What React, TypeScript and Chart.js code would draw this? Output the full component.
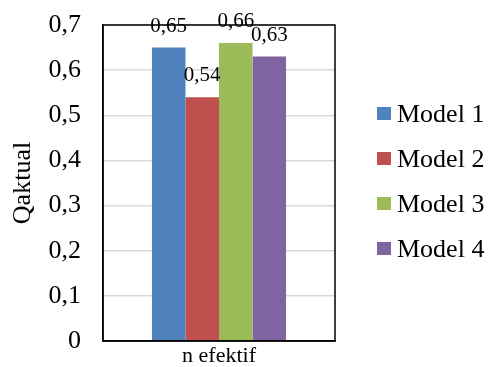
import React, { useEffect, useRef } from "react";
import { Chart, registerables } from "chart.js";

Chart.register(...registerables);

const categories = ["n efektif"];
const seriesNames = ["Model 1", "Model 2", "Model 3", "Model 4"];
const model1 = [0.65];
const model2 = [0.54];
const model3 = [0.66];
const model4 = [0.63];
const seriesColors = ["#4F81BD", "#C0504D", "#9BBB59", "#8064A2"];
const yTitle = "Qaktual";

const SERIF = "'Liberation Serif', 'Times New Roman', serif";

const fmt = (v: number) => {
  const r = Math.round(v * 100) / 100;
  return r === 0 ? "0" : String(r).replace(".", ",");
};

// Value labels drawn above each bar
const valueLabels = {
  id: "valueLabels",
  afterDatasetsDraw(chart: any) {
    const ctx = chart.ctx;
    ctx.save();
    ctx.font = `21px ${SERIF}`;
    ctx.fillStyle = "#000";
    ctx.textAlign = "center";
    ctx.textBaseline = "alphabetic";
    chart.data.datasets.forEach((ds: any, i: number) => {
      const meta = chart.getDatasetMeta(i);
      meta.data.forEach((bar: any, j: number) => {
        ctx.fillText(fmt(ds.data[j]), bar.x, bar.y - 16);
      });
    });
    ctx.restore();
  },
};

// Black frame around the plot area
const plotFrame = {
  id: "plotFrame",
  afterDatasetsDraw(chart: any) {
    const { ctx, chartArea: a } = chart;
    ctx.save();
    ctx.strokeStyle = "#000";
    ctx.lineWidth = 1.5;
    ctx.strokeRect(a.left, a.top, a.right - a.left, a.bottom - a.top);
    ctx.restore();
  },
};

// Legend on the right, one row per series
const sideLegend = {
  id: "sideLegend",
  afterDraw(chart: any) {
    const { ctx, chartArea: a } = chart;
    ctx.save();
    ctx.font = `26px ${SERIF}`;
    ctx.textAlign = "left";
    ctx.textBaseline = "alphabetic";
    chart.data.datasets.forEach((ds: any, i: number) => {
      const baseline = 122 + i * 45;
      ctx.fillStyle = ds.backgroundColor;
      ctx.fillRect(a.right + 42, baseline - 15, 14, 13);
      ctx.fillStyle = "#000";
      ctx.fillText(ds.label, a.right + 62, baseline);
    });
    ctx.restore();
  },
};

export default function App() {
  const ref = useRef<HTMLCanvasElement | null>(null);

  useEffect(() => {
    document.body.style.margin = "0";
    const values = [model1, model2, model3, model4];
    const chart = new Chart(ref.current!, {
      type: "bar",
      data: {
        labels: categories,
        datasets: seriesNames.map((name, i) => ({
          label: name,
          data: values[i],
          backgroundColor: seriesColors[i],
          borderWidth: 0,
          categoryPercentage: 0.578,
          barPercentage: 1,
        })),
      },
      options: {
        animation: false,
        responsive: false,
        maintainAspectRatio: false,
        layout: { padding: { top: 25, right: 157, bottom: 0, left: 0 } },
        plugins: {
          legend: { display: false },
          tooltip: { enabled: false },
        },
        scales: {
          x: {
            grid: { display: false, drawTicks: false },
            border: { color: "#000", width: 1.5 },
            ticks: { color: "#000", font: { family: SERIF, size: 22 }, padding: 2 },
            afterFit: (s: any) => {
              s.height = 26;
              s.paddingLeft = 0;
              s.paddingRight = 0;
            },
          },
          y: {
            min: 0,
            max: 0.7,
            grid: { color: "#d9d9d9", lineWidth: 1.5, drawTicks: false },
            border: { color: "#000", width: 1.5 },
            ticks: {
              stepSize: 0.1,
              color: "#000",
              padding: 22,
              font: { family: SERIF, size: 26 },
              callback: (v: any) => fmt(Number(v)),
            },
            title: {
              display: true,
              text: yTitle,
              color: "#000",
              font: { family: SERIF, size: 26 },
              padding: { top: 8, bottom: 0 },
            },
            afterFit: (s: any) => {
              s.width = 103;
              s.paddingTop = 0;
              s.paddingBottom = 0;
            },
          },
        },
      },
      plugins: [valueLabels, plotFrame, sideLegend],
    });
    return () => chart.destroy();
  }, []);

  return (
    <div style={{ position: "absolute", left: 0, top: 0, width: 492, height: 367, background: "#fff" }}>
      <canvas ref={ref} width={492} height={367} style={{ width: 492, height: 367 }} />
    </div>
  );
}
